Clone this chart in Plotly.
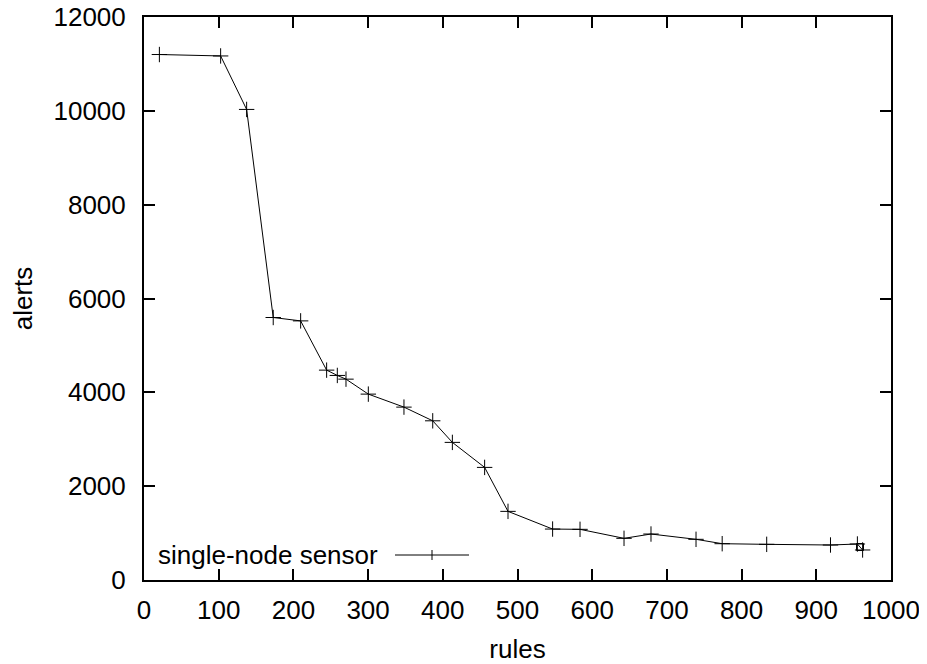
import plotly.graph_objects as go

rules = [20.6, 102.6, 137.4, 173, 209.7, 244.5, 258.8, 270.4, 300.3, 348, 386.5, 412.8,
         456, 487.3, 547, 583.7, 642.6, 678.7, 739, 774, 833.6, 919, 955, 962]
alerts = [11200, 11170, 10030, 5595, 5523, 4473, 4360, 4281, 3962, 3685, 3393, 2933,
          2400, 1463, 1086, 1080, 888, 980, 867, 774, 760, 746, 767, 640]
extra_x = [958.5]
extra_y = [703]
series_name = "single-node sensor"
x_ticks = list(range(0, 1001, 100))
y_ticks = list(range(0, 12001, 2000))

FONT = "Liberation Sans, Arial, Helvetica, sans-serif"
FS = 26

fig = go.Figure()
fig.add_trace(go.Scatter(
    x=rules, y=alerts, mode="lines+markers", name=series_name,
    line=dict(color="black", width=1),
    marker=dict(symbol="cross-thin-open", size=11, color="black",
                line=dict(color="black", width=1)),
    showlegend=False,
))
fig.add_trace(go.Scatter(
    x=extra_x, y=extra_y, mode="markers", showlegend=False,
    marker=dict(symbol="square-open", size=7, color="black",
                line=dict(color="black", width=1)),
))

# page body has an 8px default margin; compensate so the plot area lands
# at x 144..891, y 17..580 of the window
OFF = 8
L, R, T, B = 144 - OFF, 44, 17 - OFF, 84
PW, PH = 747, 563
W, H = L + PW + R, T + PH + B

def px(xp):
    return (xp - 144) / PW

def py(yp):
    return (580 - yp) / PH

# legend (gnuplot style: text then sample)
leg_y = 555
fig.add_annotation(x=px(380), y=py(leg_y), xref="paper", yref="paper",
                   text=series_name, showarrow=False, xanchor="right", yanchor="middle",
                   font=dict(family=FONT, size=FS, color="black"))
fig.add_shape(type="line", xref="paper", yref="paper",
              x0=px(395), x1=px(469), y0=py(leg_y), y1=py(leg_y),
              line=dict(color="black", width=1))
fig.add_shape(type="line", xref="paper", yref="paper",
              x0=px(432), x1=px(432), y0=py(leg_y - 5), y1=py(leg_y + 5),
              line=dict(color="black", width=1))

axis_common = dict(
    showline=True, linecolor="black", linewidth=2, mirror="ticks",
    ticks="inside", ticklen=11, tickwidth=1.5, tickcolor="black",
    showgrid=False, zeroline=False, automargin=False,
    ticklabeloverflow="allow",
    tickfont=dict(family=FONT, size=FS, color="black"),
)

fig.update_layout(
    width=W, height=H,
    margin=dict(l=L, r=R, t=T, b=B),
    paper_bgcolor="white", plot_bgcolor="white",
    font=dict(family=FONT, size=FS, color="black"),
    xaxis=dict(range=[0, 1000], tickvals=x_ticks, ticktext=[str(v) for v in x_ticks],
               ticklabelstandoff=6,
               title=dict(text="rules", font=dict(family=FONT, size=FS), standoff=20),
               **axis_common),
    yaxis=dict(range=[0, 12000], tickvals=y_ticks, ticktext=[str(v) for v in y_ticks],
               ticklabelstandoff=11,
               title=dict(text="alerts", font=dict(family=FONT, size=FS), standoff=18),
               **axis_common),
)

fig.write_html("out.html")
